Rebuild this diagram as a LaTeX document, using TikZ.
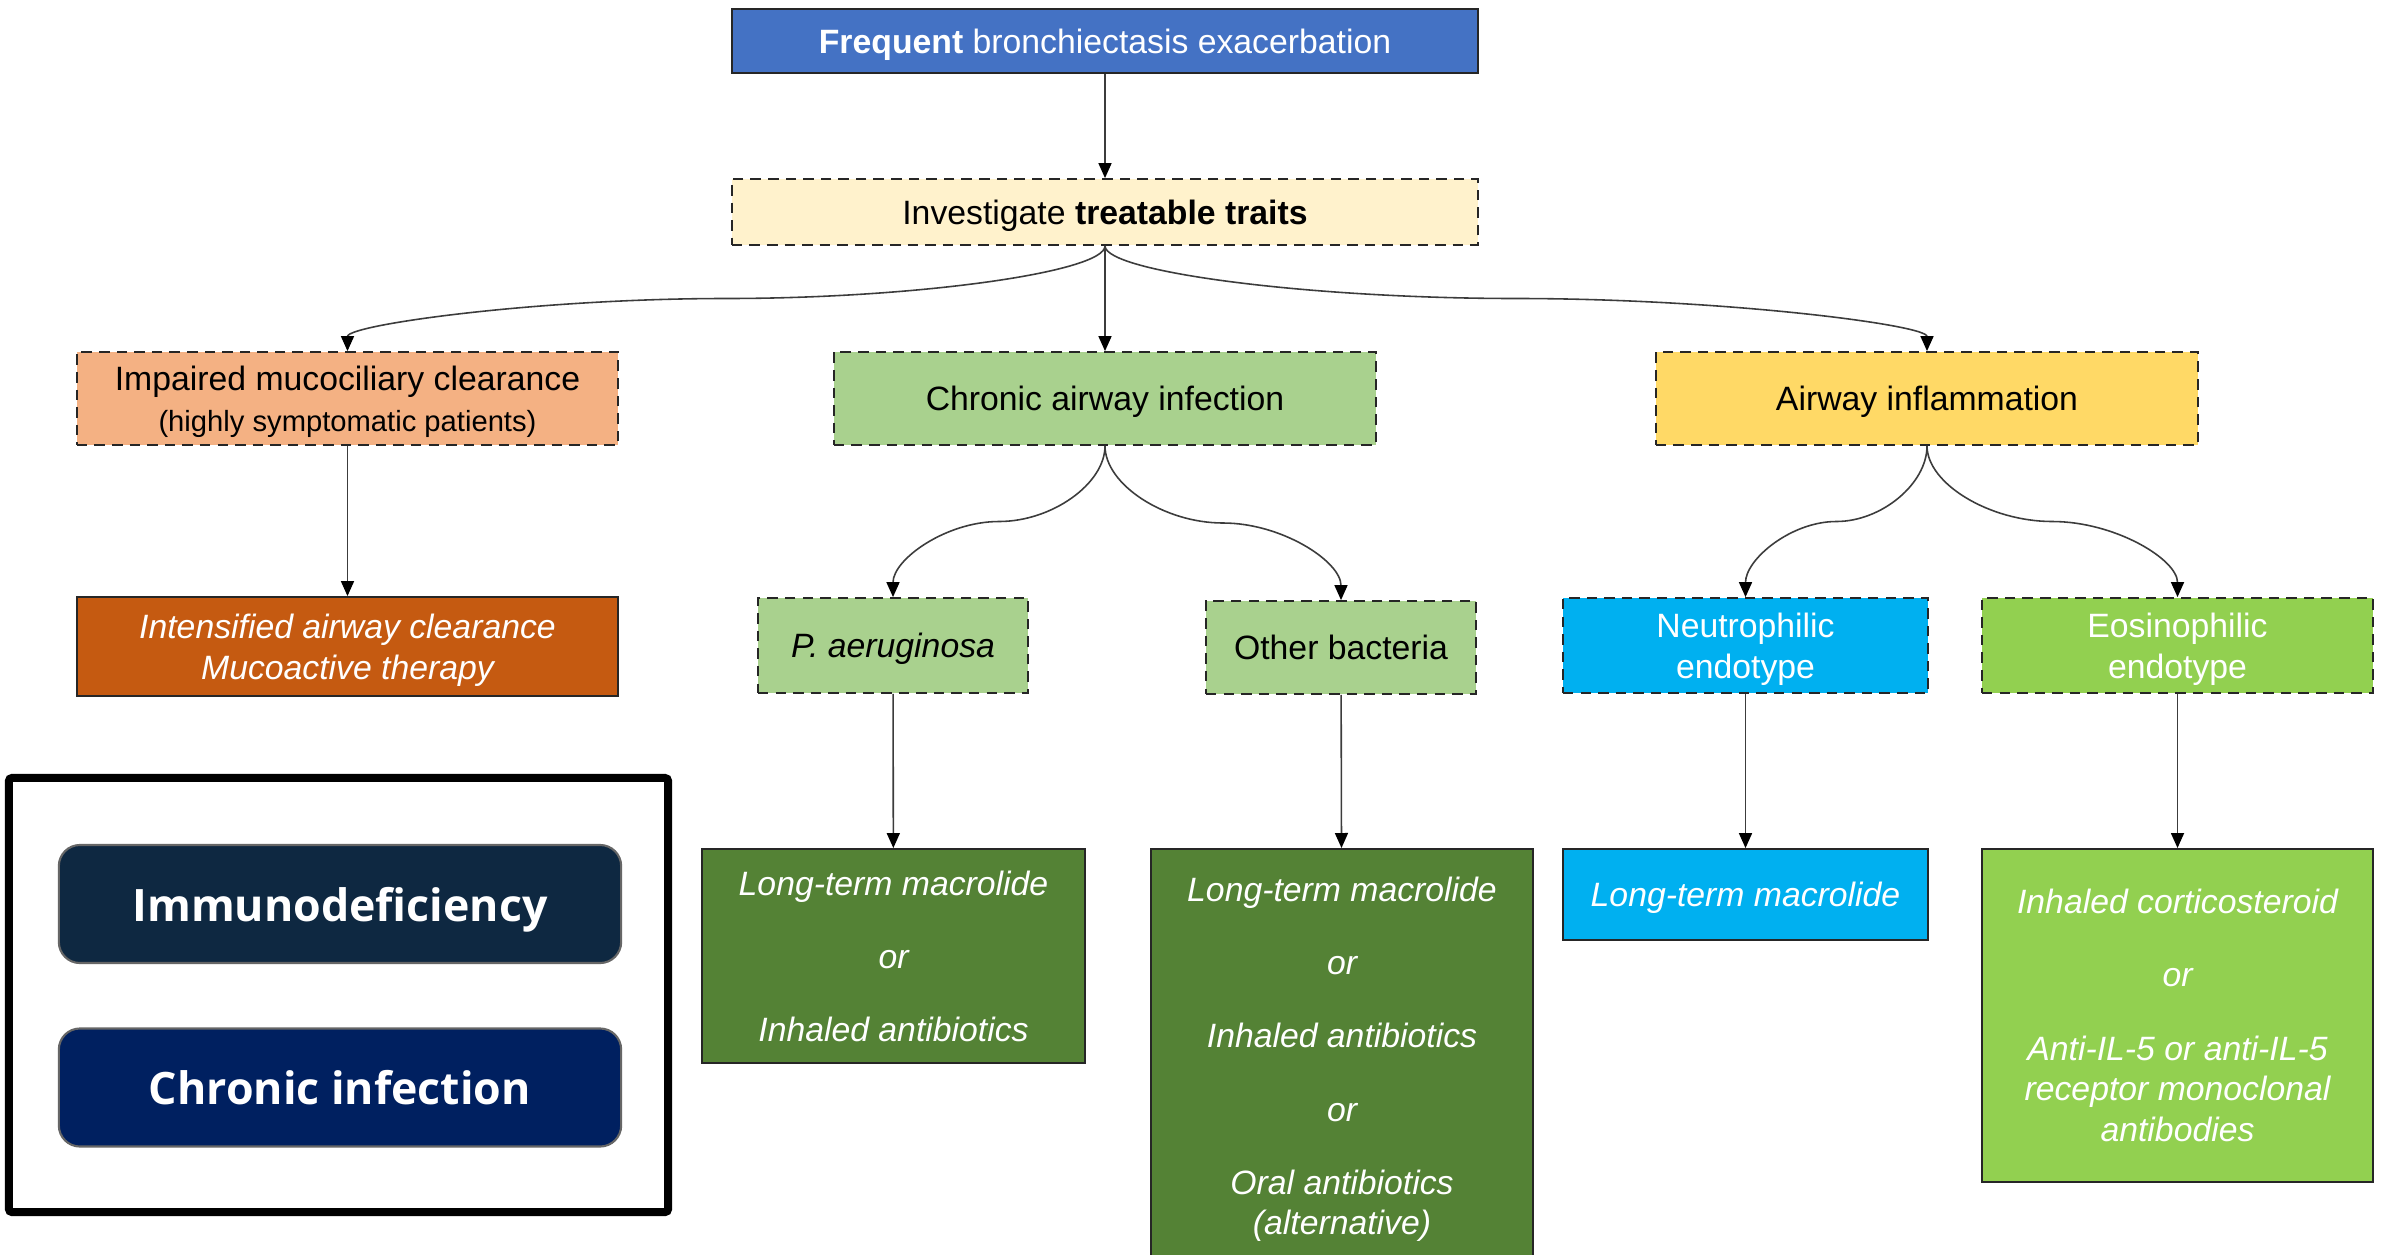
\documentclass[tikz,border=0pt]{standalone}
\usepackage{fontspec}
\setmainfont{Liberation Sans}
\newfontfamily\pillfont{Open Sans}
\usetikzlibrary{calc,arrows.meta}
\definecolor{headBlue}{RGB}{68,114,196}
\definecolor{traitCream}{RGB}{255,242,204}
\definecolor{mucusPeach}{RGB}{244,177,131}
\definecolor{mucusRust}{RGB}{197,90,17}
\definecolor{infectGreen}{RGB}{169,209,142}
\definecolor{infectDark}{RGB}{84,130,53}
\definecolor{inflamGold}{RGB}{255,217,102}
\definecolor{neutroCyan}{RGB}{0,176,240}
\definecolor{eosinLime}{RGB}{146,208,80}
\definecolor{pillInk}{RGB}{14,40,65}
\definecolor{pillNavy}{RGB}{0,32,96}
\definecolor{linkGrey}{RGB}{60,60,60}
% curved split: down, flat through the middle, down into the child
\newcommand{\SplitLink}[2]{%
  \coordinate (s) at (#1.south);
  \coordinate (e) at (#2.north);
  \coordinate (m) at ($(s)!0.5!(e)$);
  \draw[link] (s) .. controls ($(s)!0.5!(s |- m)$) and ($(m)!0.5!(s |- m)$) .. (m)
    .. controls ($(m)!0.5!(e |- m)$) and ($(e)!0.5!(e |- m)$) .. (e);}
\tikzset{
  box/.style={draw=black!85,line width=0.5pt,align=center,inner sep=2pt,text depth=0pt,
    font=\fontsize{9.6}{11.6}\selectfont},
  trait/.style={box,densely dashed},
  therapy/.style={box,text=white,font=\fontsize{9.6}{11.6}\selectfont\itshape},
  pill/.style={rounded corners=6pt,draw=black!60,line width=0.6pt,text=white,
    minimum width=5.62cm,minimum height=1.18cm,text depth=0pt,
    font=\pillfont\bfseries\fontsize{12.7}{15}\selectfont},
  link/.style={draw=linkGrey,line width=0.45pt,
    -{Triangle[length=1.5mm,width=1.3mm,color=black]}}
}

\begin{document}
\begin{tikzpicture}[x=0.01cm,y=-0.01cm]
\useasboundingbox[fill=white] (0,0) rectangle (2382,1254);

% top of the tree
\node[box,fill=headBlue,text=white,minimum width=7.46cm,minimum height=0.64cm] (freq) at (1105,41)
  {\textbf{Frequent} bronchiectasis exacerbation};
\node[trait,fill=traitCream,minimum width=7.46cm,minimum height=0.66cm] (inv) at (1105,212)
  {Investigate \textbf{treatable traits}};

% the three traits
\node[trait,fill=mucusPeach,minimum width=5.41cm,minimum height=0.93cm] (imp) at (347.5,398.5)
  {Impaired mucociliary clearance\\{\fontsize{8.3}{10.4}\selectfont(highly symptomatic patients)}};
\node[trait,fill=infectGreen,minimum width=5.42cm,minimum height=0.93cm] (chr) at (1105,398.5)
  {Chronic airway infection};
\node[trait,fill=inflamGold,minimum width=5.42cm,minimum height=0.93cm] (infl) at (1927,398.5)
  {Airway inflammation};

% second level
\node[therapy,fill=mucusRust,minimum width=5.41cm,minimum height=0.99cm] (clr) at (347.5,646.5)
  {Intensified airway clearance\\Mucoactive therapy};
\node[trait,fill=infectGreen,minimum width=2.70cm,minimum height=0.95cm] (psa) at (893,645.5)
  {\textit{P. aeruginosa}};
\node[trait,fill=infectGreen,minimum width=2.70cm,minimum height=0.93cm] (oth) at (1341,647.5)
  {Other bacteria};
\node[trait,fill=neutroCyan,text=white,minimum width=3.65cm,minimum height=0.95cm] (neu) at (1745.5,645.5)
  {Neutrophilic\\endotype};
\node[trait,fill=eosinLime,text=white,minimum width=3.91cm,minimum height=0.95cm] (eos) at (2177.5,645.5)
  {Eosinophilic\\endotype};

% treatments
\node[therapy,fill=infectDark,minimum width=3.83cm,minimum height=2.14cm] (psatx) at (893.5,956)
  {Long-term macrolide\\[9.2pt]or\\[9.2pt]Inhaled antibiotics};
\node[therapy,fill=infectDark,minimum width=3.82cm,minimum height=4.14cm] (othtx) at (1342,1056)
  {Long-term macrolide\\[9.2pt]or\\[9.2pt]Inhaled antibiotics\\[9.2pt]or\\[9.2pt]Oral antibiotics\\(alternative)};
\node[therapy,fill=neutroCyan,minimum width=3.65cm,minimum height=0.91cm] (neutx) at (1745.5,894.5)
  {Long-term macrolide};
\node[therapy,fill=eosinLime,minimum width=3.91cm,minimum height=3.33cm] (eostx) at (2177.5,1015.5)
  {Inhaled corticosteroid\\[9.2pt]or\\[9.2pt]Anti-IL-5 or anti-IL-5\\receptor monoclonal\\antibodies};

% legend
\node[draw=black,line width=2.3pt,rounded corners=1pt,minimum width=6.59cm,minimum height=4.34cm] (legend) at (338.5,995) {};
\node[pill,fill=pillInk] (immuno) at (340,904) {Immunodeficiency};
\node[pill,fill=pillNavy] (chronic) at (340,1087.5) {Chronic infection};

% connectors
\draw[link] (freq) -- (inv);
\draw[link] (inv) -- (chr);
\SplitLink{inv}{imp}
\SplitLink{inv}{infl}
\draw[link] (imp) -- (clr);
\SplitLink{chr}{psa}
\SplitLink{chr}{oth}
\SplitLink{infl}{neu}
\SplitLink{infl}{eos}
\draw[link] (psa) -- (psatx);
\draw[link] (oth) -- (othtx);
\draw[link] (neu) -- (neutx);
\draw[link] (eos) -- (eostx);
\end{tikzpicture}
\end{document}
